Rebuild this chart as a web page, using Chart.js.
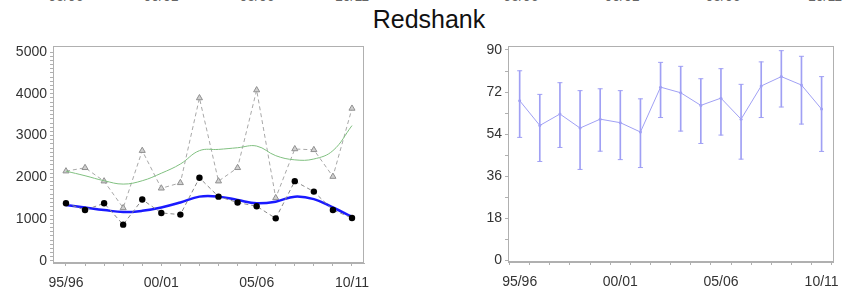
<!DOCTYPE html>
<html>
<head>
<meta charset="utf-8">
<script src="https://cdn.jsdelivr.net/npm/chart.js@4.4.1/dist/chart.umd.min.js"></script>
<style>
    body { margin: 0; background: #fff; width: 848px; height: 296px; overflow: hidden; position: relative; font-family: 'Liberation Sans', Arial, sans-serif; }
    #title { position: absolute; left: 0; width: 858px; top: 5px; text-align: center; font-size: 25px; color: #111; }
    #cut { position: absolute; left: 0; top: 0; width: 848px; height: 4px; overflow: hidden; }
    #cut span { position: absolute; top: -12px; font-size: 14px; color: #666; transform: translateX(-50%); }
    .box { position: absolute; top: 0; width: 424px; height: 296px; }
</style>
</head>
<body>
<div id="cut"></div>
<div id="title">Redshank</div>
<div class="box" style="left:0"><canvas id="countChart" width="424" height="296"></canvas></div>
<div class="box" style="left:424px"><canvas id="pctChart" width="424" height="296"></canvas></div>
<script>
const seasons = ['95/96', '96/97', '97/98', '98/99', '99/00', '00/01', '01/02', '02/03',
    '03/04', '04/05', '05/06', '06/07', '07/08', '08/09', '09/10', '10/11'];
const xTickLabels = ['95/96', '00/01', '05/06', '10/11'];

// left panel: counts
const countDots = [1380, 1220, 1380, 870, 1470, 1150, 1110, 1990, 1540, 1400, 1310, 1020, 1910, 1660, 1220, 1030];
const countTriangles = [2150, 2230, 1910, 1270, 2640, 1740, 1870, 3900, 1910, 2230, 4090, 1510, 2680, 2660, 2020, 3650];
const trendTriangles = [2150, 2040, 1920, 1840, 1920, 2100, 2320, 2640, 2670, 2710, 2750, 2520, 2420, 2440, 2640, 3240];
const trendDots = [1340, 1280, 1220, 1170, 1200, 1280, 1400, 1540, 1540, 1460, 1380, 1420, 1540, 1480, 1280, 1060];
const countYLabels = [0, 1000, 2000, 3000, 4000, 5000];

// right panel: percentage with error bars
const pctMean = [68.3, 57.7, 62.6, 56.6, 60.4, 58.9, 54.9, 74.1, 71.7, 66.3, 69.4, 60.4, 74.6, 78.6, 75.0, 64.7];
const pctLow = [52.6, 42.3, 48.3, 38.9, 46.7, 43.1, 39.7, 61.1, 55.3, 50.0, 53.6, 43.3, 61.1, 65.6, 58.3, 46.6];
const pctHigh = [81.1, 71.0, 76.0, 72.6, 73.4, 72.6, 69.1, 84.7, 83.0, 77.7, 82.0, 75.3, 84.9, 89.7, 87.3, 78.6];
const pctYLabels = [0, 18, 36, 54, 72, 90];

const AXIS = '#b0b0b0';
const ERR = '#a0a0f4';

Chart.defaults.font.family = "'Liberation Sans', Arial, sans-serif";
Chart.defaults.font.size = 14;
Chart.defaults.color = '#333';

// clipped tick labels of the panel above
const cut = document.getElementById('cut');
[66, 161, 257, 352, 521, 622, 723, 825].forEach((x, i) => {
    const s = document.createElement('span');
    s.textContent = xTickLabels[i % 4];
    s.style.left = x + 'px';
    cut.appendChild(s);
});

const frame = {
    id: 'frame',
    afterDraw(chart) {
        const { ctx, chartArea: a } = chart;
        ctx.save();
        ctx.strokeStyle = AXIS;
        ctx.lineWidth = 1;
        ctx.strokeRect(Math.round(a.left) + 0.5, Math.round(a.top) + 0.5,
            Math.round(a.right - a.left) - 1, Math.round(a.bottom - a.top) - 1);
        ctx.restore();
    }
};

const pts = arr => arr.map((v, i) => ({ x: i, y: v }));

function xAxis(min, max, h) {
    return {
        type: 'linear', min, max, offset: false,
        afterBuildTicks: s => { s.ticks = seasons.map((_, i) => ({ value: i })); },
        afterFit: s => { s.height = h; },
        ticks: {
            autoSkip: false, maxRotation: 0, padding: 9,
            callback: v => xTickLabels.includes(seasons[v]) ? seasons[v] : ''
        },
        grid: { drawOnChartArea: false, tickLength: 3, color: AXIS },
        border: { color: AXIS }
    };
}

function yAxis(min, max, step, labels, w) {
    const top = labels[labels.length - 1];
    return {
        min, max,
        afterBuildTicks: s => {
            const t = [];
            for (let v = 0; v <= top; v += step) t.push({ value: v });
            s.ticks = t;
        },
        afterFit: s => { s.width = w; },
        ticks: {
            autoSkip: false, padding: 3,
            callback: v => labels.includes(v) ? String(v) : ''
        },
        grid: { drawOnChartArea: false, tickLength: 3, color: AXIS },
        border: { color: AXIS }
    };
}

const common = {
    responsive: false,
    animation: false,
    plugins: { legend: { display: false }, tooltip: { enabled: false } }
};

new Chart(document.getElementById('countChart'), {
    type: 'line',
    data: {
        datasets: [
            {
                data: pts(trendDots),
                borderColor: '#1a1aff', borderWidth: 2.5, tension: 0.4,
                pointRadius: 0, order: 1
            },
            {
                data: pts(trendTriangles),
                borderColor: '#80c080', borderWidth: 1, tension: 0.4,
                pointRadius: 0, order: 2
            },
            {
                data: pts(countTriangles),
                borderColor: '#a8a8a8', borderWidth: 1, borderDash: [4, 3],
                pointStyle: 'triangle', pointRadius: 3.5,
                pointBackgroundColor: '#d0d0d0', pointBorderColor: '#909090', pointBorderWidth: 1,
                order: 3
            },
            {
                data: pts(countDots),
                borderColor: '#8a8a8a', borderWidth: 1, borderDash: [4, 3],
                pointStyle: 'circle', pointRadius: 3.2,
                pointBackgroundColor: '#000', pointBorderColor: '#000', pointBorderWidth: 0,
                order: 0
            }
        ]
    },
    options: {
        ...common,
        layout: { padding: { top: 46, right: 60, left: 0, bottom: 0 } },
        scales: {
            x: xAxis(-0.68, 15.63, 33),
            y: yAxis(-48, 5144, 100, countYLabels, 53)
        }
    },
    plugins: [frame]
});

new Chart(document.getElementById('pctChart'), {
    type: 'line',
    data: {
        datasets: [
            {
                type: 'bar',
                data: pctLow.map((v, i) => ({ x: i, y: [v, pctHigh[i]] })),
                backgroundColor: ERR, borderWidth: 0, barThickness: 1
            },
            {
                data: pts(pctMean),
                borderColor: ERR, borderWidth: 1, tension: 0,
                pointRadius: 1.5, pointBackgroundColor: ERR, pointBorderWidth: 0
            },
            {
                data: pts(pctLow), showLine: false,
                pointStyle: 'line', pointRadius: 2.5, pointBorderColor: ERR, pointBorderWidth: 1
            },
            {
                data: pts(pctHigh), showLine: false,
                pointStyle: 'line', pointRadius: 2.5, pointBorderColor: ERR, pointBorderWidth: 1
            }
        ]
    },
    options: {
        ...common,
        layout: { padding: { top: 46, right: 11, left: 0, bottom: 0 } },
        scales: {
            x: xAxis(-0.58, 15.61, 34),
            y: yAxis(-0.7, 91.7, 9, pctYLabels, 84)
        }
    },
    plugins: [frame]
});
</script>
</body>
</html>
